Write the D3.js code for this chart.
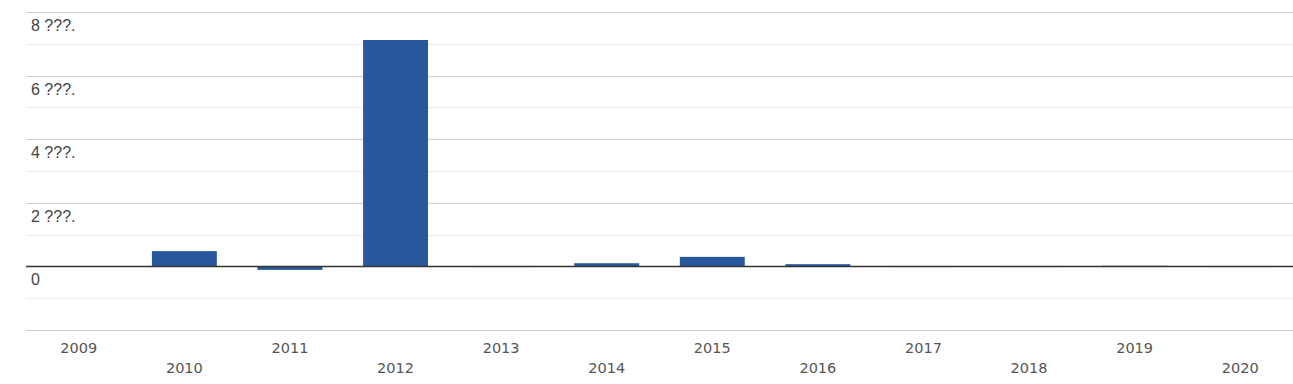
<!DOCTYPE html>
<html><head><meta charset="utf-8">
<script src="https://cdn.jsdelivr.net/npm/d3@7"></script>
<style>body{margin:0;background:#fff;}svg{display:block;font-family:"DejaVu Sans",sans-serif;}</style>
</head><body>
<svg id="c" width="1293" height="384"></svg>
<script>
const years = ["2009","2010","2011","2012","2013","2014","2015","2016","2017","2018","2019","2020"];
const values = [0.01,0.48,-0.11,7.12,-0.02,0.1,0.3,0.07,-0.02,-0.02,0.02,-0.02];
const majorTicks = [8,6,4,2,0];
const majorLabels = ["8 ???.","6 ???.","4 ???.","2 ???.","0"];
const minorTicks = [7,5,3,1,-1];

const svg = d3.select("#c");
const left = 26, right = 1293;
const x = d3.scaleBand().domain(years).range([left,right]).paddingInner(0.385).paddingOuter(0.1925);
const y = d3.scaleLinear().domain([-2,8]).range([330,12]);

svg.selectAll(".minor").data(minorTicks).enter().append("line")
  .attr("x1",left).attr("x2",right).attr("y1",d=>Math.round(y(d))+0.5).attr("y2",d=>Math.round(y(d))+0.5)
  .attr("stroke","#ececec").attr("stroke-width",1);
svg.selectAll(".major").data(majorTicks.concat([-2])).enter().append("line")
  .attr("x1",left).attr("x2",right).attr("y1",d=>Math.round(y(d))+0.5).attr("y2",d=>Math.round(y(d))+0.5)
  .attr("stroke","#cccccc").attr("stroke-width",1);

svg.selectAll(".bar").data(values).enter().append("rect")
  .attr("x",(d,i)=>x(years[i])).attr("width",x.bandwidth())
  .attr("y",d=>y(Math.max(0,d))).attr("height",d=>Math.abs(y(d)-y(0)))
  .attr("fill","#27599c");

svg.append("line").attr("x1",left).attr("x2",right).attr("y1",y(0)).attr("y2",y(0))
  .attr("stroke","#333").attr("stroke-width",1.5);

svg.selectAll(".yl").data(majorTicks).enter().append("text")
  .attr("x",31).attr("y",d=>y(d)+19).text((d,i)=>majorLabels[i])
  .attr("font-family","'Liberation Sans',Arial,sans-serif")
  .attr("font-size",16).attr("fill","#444");

svg.selectAll(".xl").data(years).enter().append("text")
  .attr("x",d=>x(d)+x.bandwidth()/2).attr("y",(d,i)=>i%2===0?353:373)
  .attr("text-anchor","middle").text(d=>d)
  .attr("font-size",14.5).attr("fill","#555");
</script>
</body></html>
